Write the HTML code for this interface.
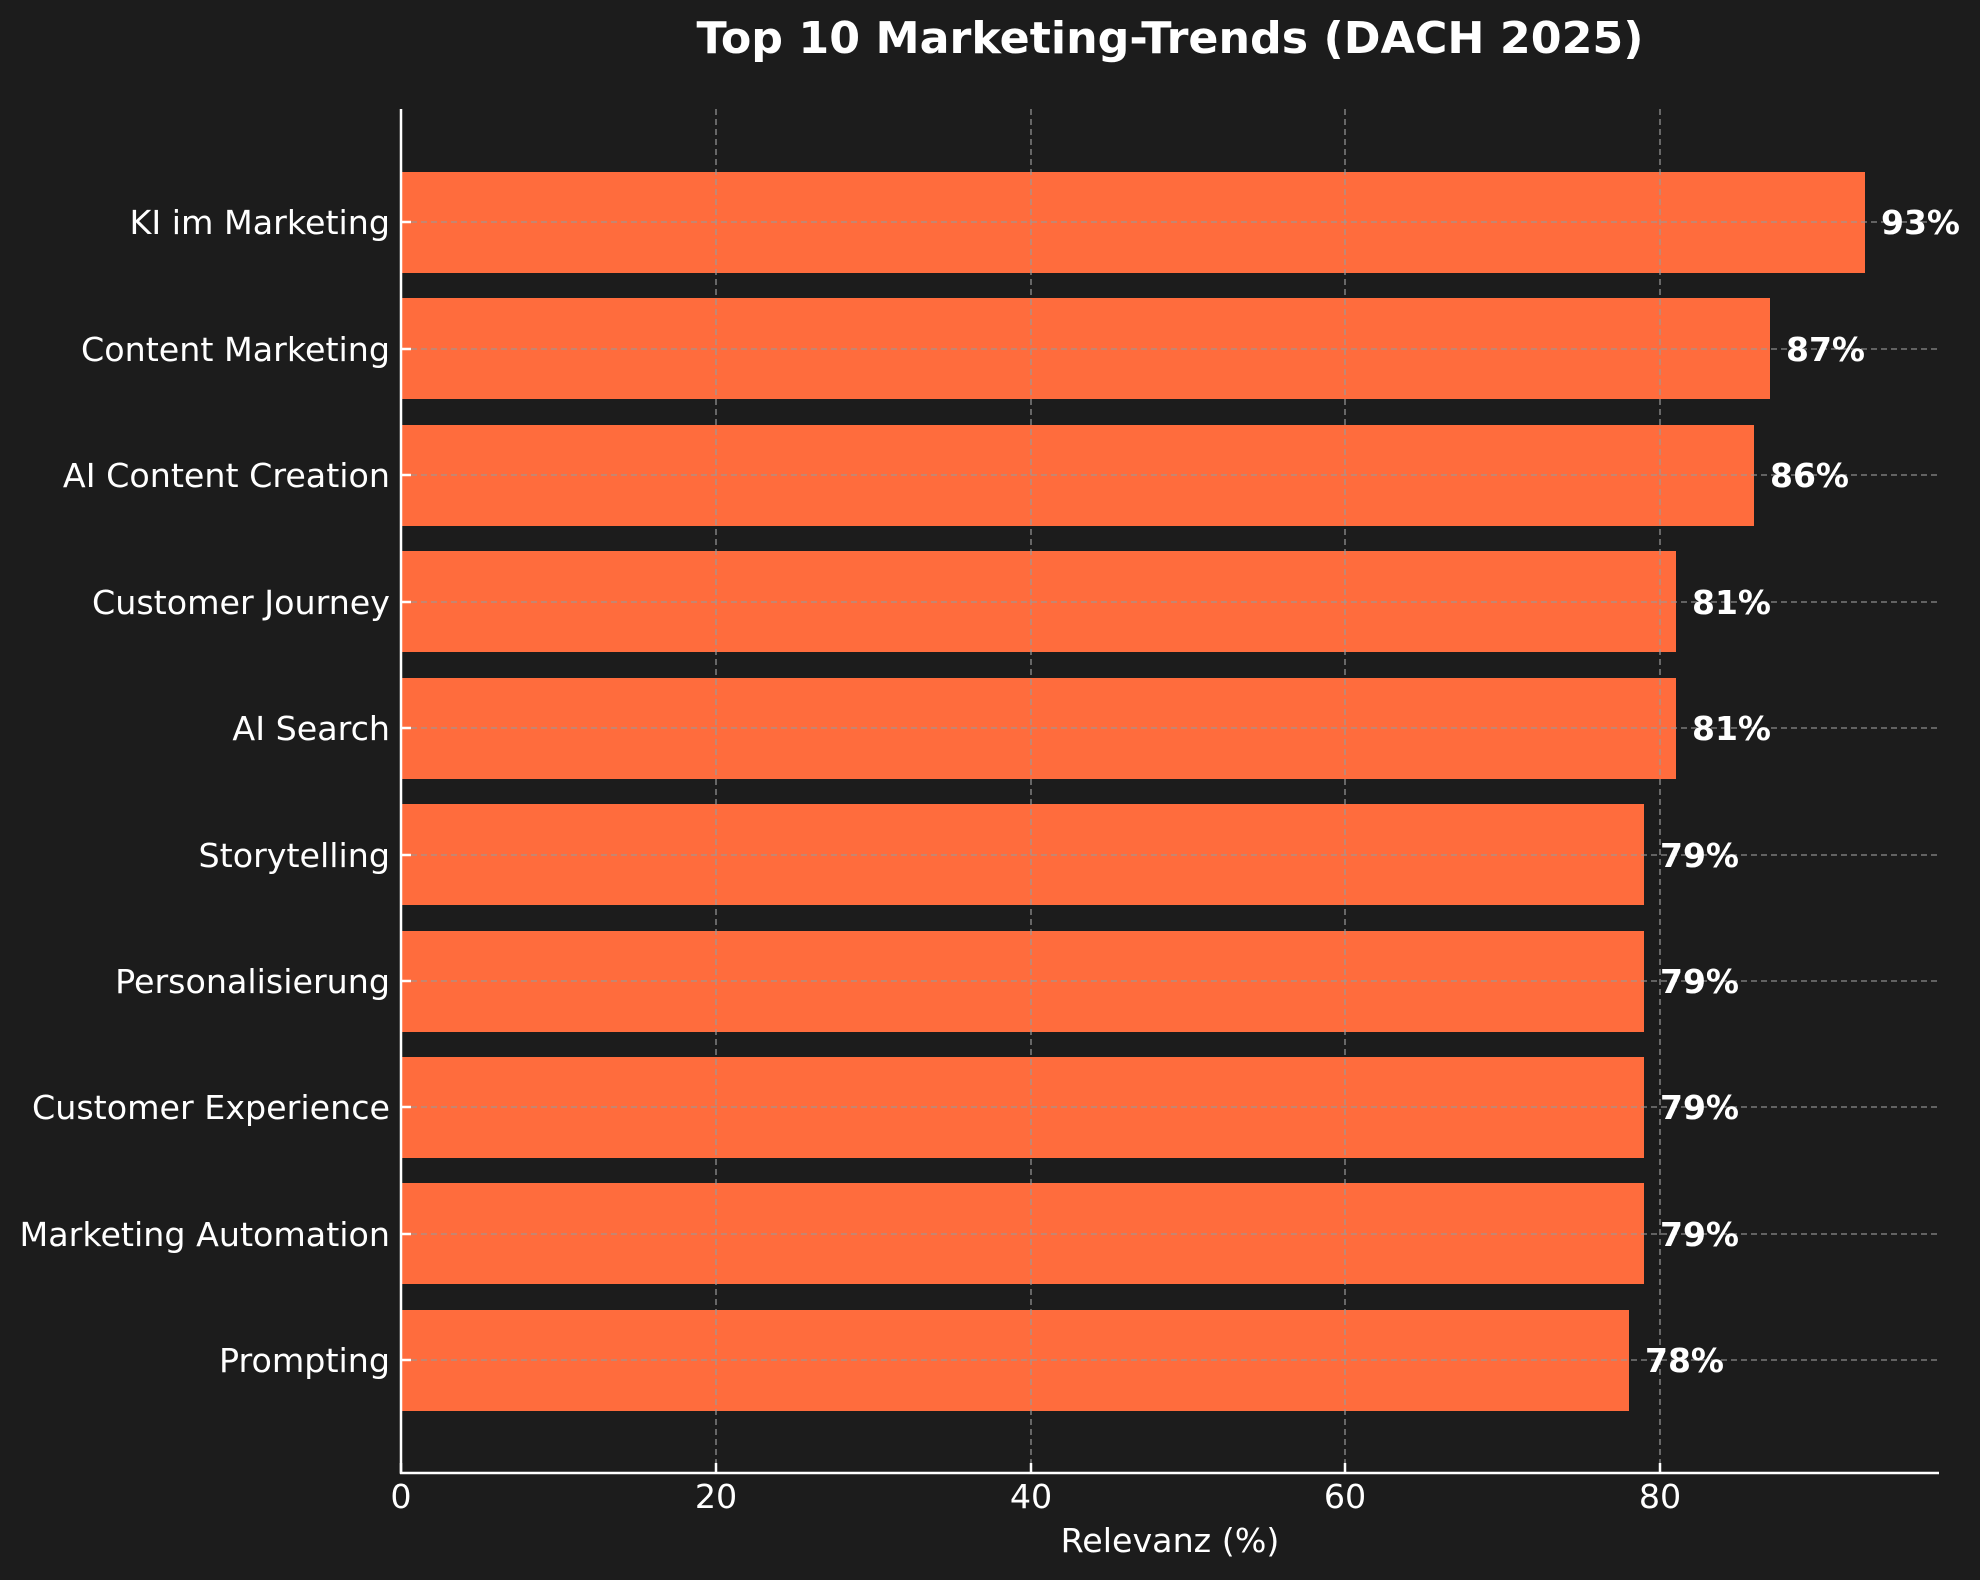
<!DOCTYPE html>
<html><head><meta charset="utf-8"><style>
html,body{margin:0;padding:0;background:#1c1c1c;}
svg{display:block;}
text{font-family:"DejaVu Sans","Liberation Sans",sans-serif;fill:#fff;}
</style></head><body>
<svg width="1980" height="1580" xmlns="http://www.w3.org/2000/svg">
<rect width="1980" height="1580" fill="#1c1c1c"/>
<text x="1170" y="53" font-size="44" font-weight="bold" text-anchor="middle" textLength="947" lengthAdjust="spacingAndGlyphs">Top 10 Marketing-Trends (DACH 2025)</text>
<g fill="#ff6c3d">
<rect x="401" y="172" width="1464" height="101"/>
<rect x="401" y="298" width="1369" height="101"/>
<rect x="401" y="425" width="1353" height="101"/>
<rect x="401" y="551" width="1275" height="101"/>
<rect x="401" y="678" width="1275" height="101"/>
<rect x="401" y="804" width="1243" height="101"/>
<rect x="401" y="931" width="1243" height="101"/>
<rect x="401" y="1057" width="1243" height="101"/>
<rect x="401" y="1183" width="1243" height="101"/>
<rect x="401" y="1310" width="1228" height="101"/>
</g>
<g stroke="#9a9a9a" stroke-opacity="0.75" stroke-width="1.6" stroke-dasharray="6,4">
<line x1="716" y1="109" x2="716" y2="1473"/>
<line x1="1031" y1="109" x2="1031" y2="1473"/>
<line x1="1345" y1="109" x2="1345" y2="1473"/>
<line x1="1660" y1="109" x2="1660" y2="1473"/>
<line x1="401" y1="222" x2="1939" y2="222"/>
<line x1="401" y1="349" x2="1939" y2="349"/>
<line x1="401" y1="475" x2="1939" y2="475"/>
<line x1="401" y1="602" x2="1939" y2="602"/>
<line x1="401" y1="728" x2="1939" y2="728"/>
<line x1="401" y1="855" x2="1939" y2="855"/>
<line x1="401" y1="981" x2="1939" y2="981"/>
<line x1="401" y1="1107" x2="1939" y2="1107"/>
<line x1="401" y1="1234" x2="1939" y2="1234"/>
<line x1="401" y1="1360" x2="1939" y2="1360"/>
</g>
<g stroke="#fff" stroke-width="2.5">
<line x1="401" y1="109" x2="401" y2="1474"/>
<line x1="400" y1="1473" x2="1939" y2="1473"/>
<line x1="401" y1="1473" x2="401" y2="1463"/>
<line x1="716" y1="1473" x2="716" y2="1463"/>
<line x1="1031" y1="1473" x2="1031" y2="1463"/>
<line x1="1345" y1="1473" x2="1345" y2="1463"/>
<line x1="1660" y1="1473" x2="1660" y2="1463"/>
<line x1="401" y1="222" x2="411" y2="222"/>
<line x1="401" y1="349" x2="411" y2="349"/>
<line x1="401" y1="475" x2="411" y2="475"/>
<line x1="401" y1="602" x2="411" y2="602"/>
<line x1="401" y1="728" x2="411" y2="728"/>
<line x1="401" y1="855" x2="411" y2="855"/>
<line x1="401" y1="981" x2="411" y2="981"/>
<line x1="401" y1="1107" x2="411" y2="1107"/>
<line x1="401" y1="1234" x2="411" y2="1234"/>
<line x1="401" y1="1360" x2="411" y2="1360"/>
</g>
<g font-size="33.3" text-anchor="end">
<text x="390" y="234">KI im Marketing</text>
<text x="390" y="361">Content Marketing</text>
<text x="390" y="487">AI Content Creation</text>
<text x="390" y="614">Customer Journey</text>
<text x="390" y="740">AI Search</text>
<text x="390" y="867">Storytelling</text>
<text x="390" y="993">Personalisierung</text>
<text x="390" y="1119">Customer Experience</text>
<text x="390" y="1246">Marketing Automation</text>
<text x="390" y="1372">Prompting</text>
</g>
<g font-size="33" font-weight="bold">
<text x="1881" y="234">93%</text>
<text x="1786" y="361">87%</text>
<text x="1770" y="487">86%</text>
<text x="1692" y="614">81%</text>
<text x="1692" y="740">81%</text>
<text x="1660" y="867">79%</text>
<text x="1660" y="993">79%</text>
<text x="1660" y="1119">79%</text>
<text x="1660" y="1246">79%</text>
<text x="1645" y="1372">78%</text>
</g>
<g font-size="33.3" text-anchor="middle">
<text x="401" y="1508">0</text>
<text x="716" y="1508">20</text>
<text x="1031" y="1508">40</text>
<text x="1345" y="1508">60</text>
<text x="1660" y="1508">80</text>
<text x="1170" y="1552">Relevanz (%)</text>
</g>
</svg>
</body></html>
